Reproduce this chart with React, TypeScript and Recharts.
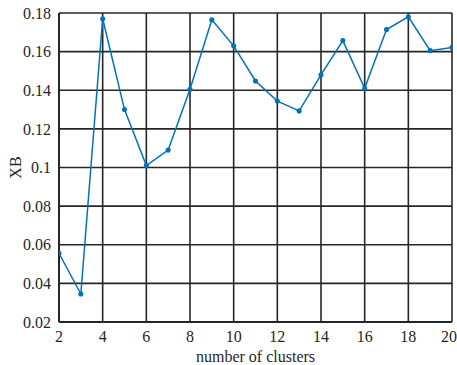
import React from "react";
import {
  LineChart,
  Line,
  XAxis,
  YAxis,
  CartesianGrid,
  Label,
} from "recharts";

const clusters = [2, 3, 4, 5, 6, 7, 8, 9, 10, 11, 12, 13, 14, 15, 16, 17, 18, 19, 20];
const xbValues = [
  0.0556, 0.0345, 0.177, 0.13, 0.101, 0.109, 0.1405, 0.1765, 0.163, 0.1448,
  0.1344, 0.1293, 0.148, 0.1657, 0.141, 0.1714, 0.178, 0.1605, 0.1622,
];
const xTicks = [2, 4, 6, 8, 10, 12, 14, 16, 18, 20];
const yTicks = [0.02, 0.04, 0.06, 0.08, 0.1, 0.12, 0.14, 0.16, 0.18];

const data = clusters.map((k, i) => ({ k, xb: xbValues[i] }));

const font = "'Liberation Serif', 'Times New Roman', serif";
const axisColor = "#262626";

const App: React.FC = () => (
  <div style={{ position: "absolute", left: 0, top: 0, background: "#fff" }}>
    <LineChart
      width={457}
      height={365}
      data={data}
      margin={{ top: 13, right: 5, bottom: 18, left: 14 }}
    >
      <CartesianGrid stroke={axisColor} strokeWidth={1.6} />
      <XAxis
        dataKey="k"
        type="number"
        domain={[2, 20]}
        ticks={xTicks}
        height={25}
        tickLine={false}
        stroke={axisColor}
        strokeWidth={2}
        tick={{ fill: axisColor, fontSize: 16, fontFamily: font }}
        tickMargin={3}
        allowDataOverflow
      >
        <Label
          value="number of clusters"
          position="insideBottom"
          offset={-15}
          style={{ fill: axisColor, fontSize: 16, fontFamily: font }}
        />
      </XAxis>
      <YAxis
        type="number"
        domain={[0.02, 0.18]}
        ticks={yTicks}
        width={45}
        tickLine={false}
        stroke={axisColor}
        strokeWidth={2}
        tick={{ fill: axisColor, fontSize: 16, fontFamily: font }}
        tickFormatter={(v: number) => (v === 0.1 ? "0.1" : v.toFixed(2))}
        allowDataOverflow
      >
        <Label
          value="XB"
          angle={-90}
          position="insideLeft"
          offset={1}
          style={{ fill: axisColor, fontSize: 16, fontFamily: font, textAnchor: "middle" }}
        />
      </YAxis>
      <Line
        type="linear"
        dataKey="xb"
        stroke="#0072BD"
        strokeWidth={1.5}
        dot={{ r: 1.8, fill: "#0072BD", stroke: "#0072BD" }}
        isAnimationActive={false}
      />
    </LineChart>
  </div>
);

export default App;
